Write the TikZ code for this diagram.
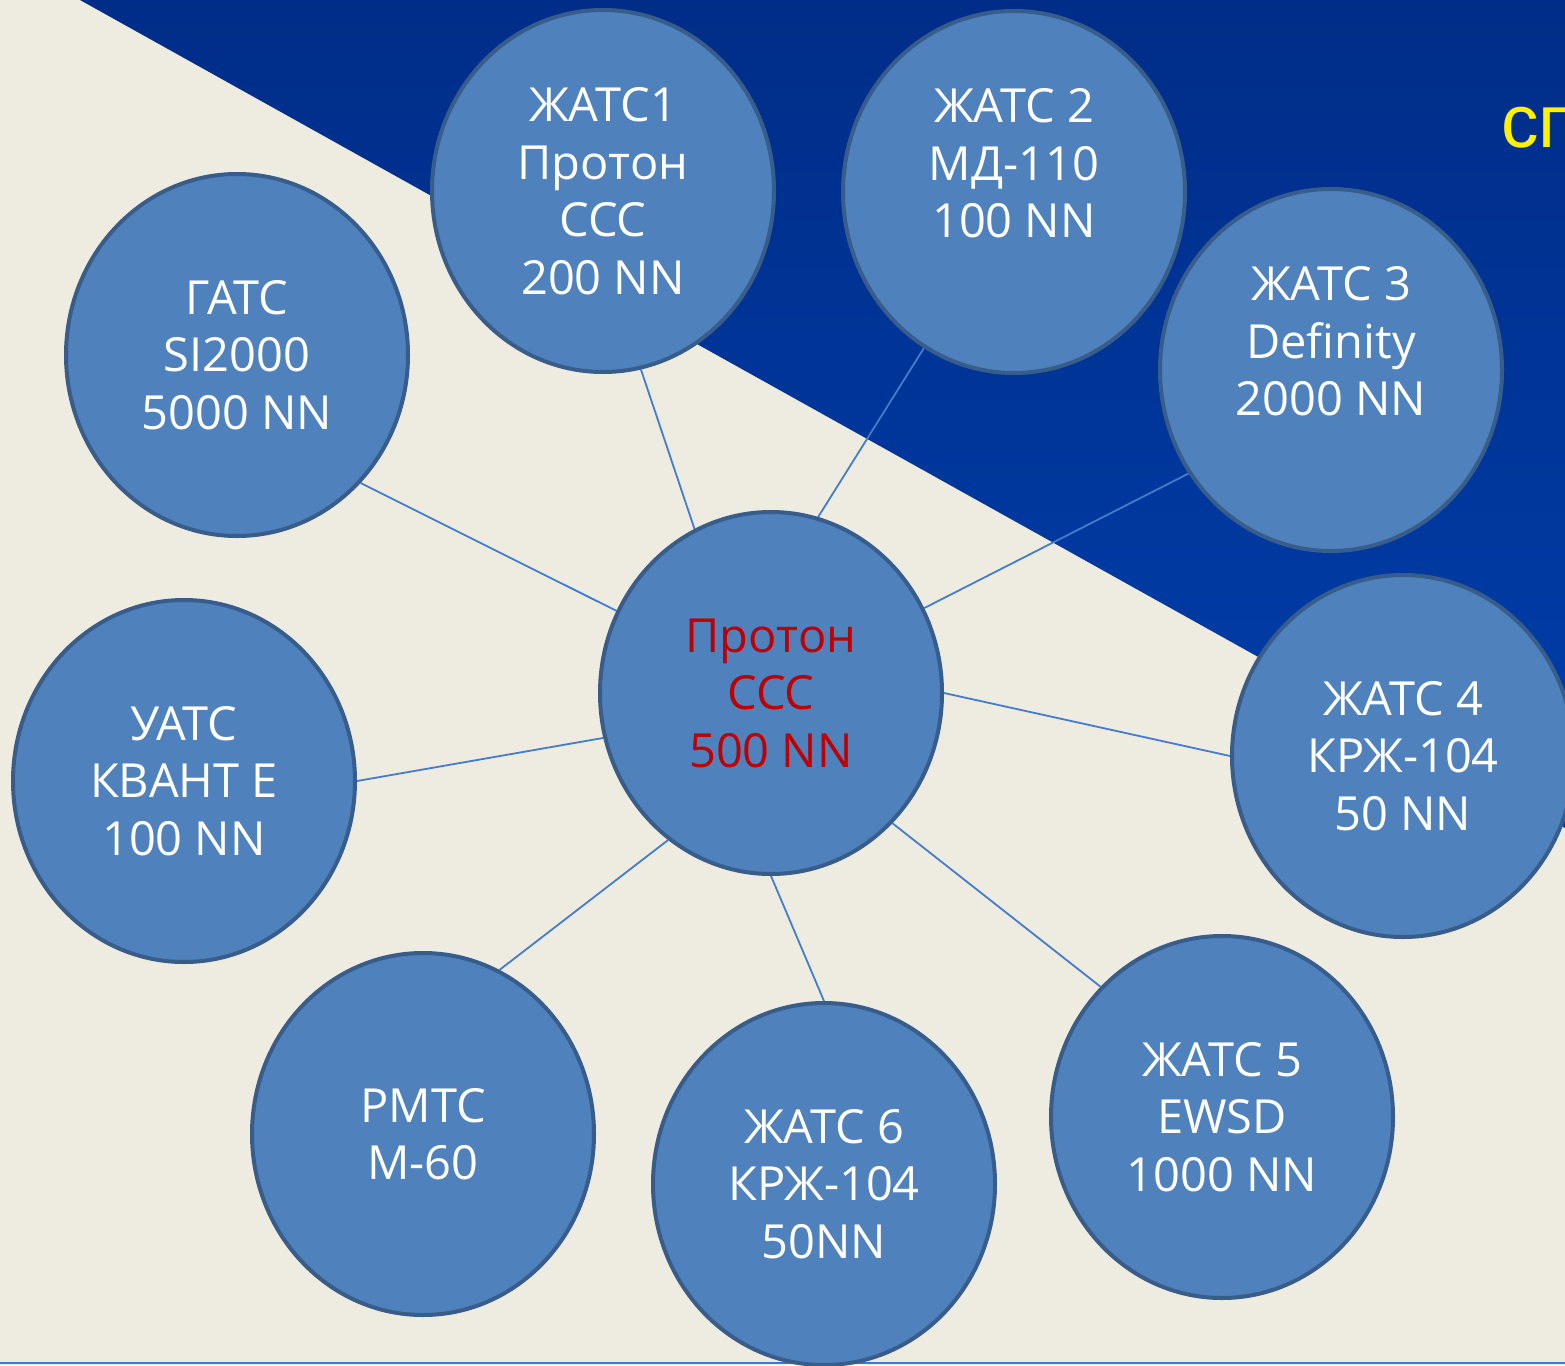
\documentclass[tikz,border=0pt]{standalone}
\usepackage{fontspec}
\setmainfont{Open Sans}
\newfontfamily\arialf{Liberation Sans}
\usetikzlibrary{shapes.geometric}
\definecolor{cream}{RGB}{238,236,225}
\definecolor{bluetop}{RGB}{0,45,136}
\definecolor{bluebot}{RGB}{0,62,170}
\definecolor{circfill}{RGB}{79,129,189}
\definecolor{circline}{RGB}{56,93,138}
\definecolor{linkc}{RGB}{68,125,205}
\definecolor{redtxt}{RGB}{192,0,0}
\definecolor{bottomline}{RGB}{60,120,216}
\pgfdeclarelayer{bg}
\pgfdeclarelayer{edges}
\pgfsetlayers{bg,edges,main}
\begin{document}
\begin{tikzpicture}[x=1pt,y=-1pt,
  station/.style={ellipse, fill=circfill, draw=circline, line width=4pt,
    minimum width=342pt, minimum height=362pt, inner sep=0pt, text=white,
    align=center, font=\fontsize{47}{57.5}\selectfont},
  link/.style={draw=linkc, line width=1.8pt}]
\useasboundingbox (0,0) rectangle (1565,1365);
\clip (0,0) rectangle (1565,1365);
\begin{pgfonlayer}{bg}
  \fill[cream] (0,0) rectangle (1565,1365);
  \shade[top color=bluetop, bottom color=bluebot] (80,0) -- (1565,0) -- (1565,828) -- cycle;
  \draw[bottomline, line width=2.5pt] (0,1363) -- (1565,1363);
\end{pgfonlayer}

\node[anchor=base west, text=yellow, inner sep=0pt, font=\arialf\fontsize{75}{75}\selectfont] (sp) at (1501,147) {сп};

\node[station] (hub)  at (771,693)  {\color{redtxt}Протон\\\color{redtxt}ССС\\\color{redtxt}500 NN};
\node[station] (z1)   at (603,191)  {ЖАТС1\\Протон\\ССС\\200 NN};
\node[station] (z2)   at (1014,192) {ЖАТС 2\\МД-110\\100 NN\\\mbox{}};
\node[station] (z3)   at (1331,370) {ЖАТС 3\\Definity\\2000 NN\\\mbox{}};
\node[station] (gats) at (237,355)  {ГАТС\\SI2000\\5000 NN};
\node[station] (uats) at (184,781)  {УАТС\\КВАНТ Е\\100 NN};
\node[station] (z4)   at (1403,756) {ЖАТС 4\\КРЖ-104\\50 NN};
\node[station] (rmts) at (423,1134) {РМТС\\М-60};
\node[station] (z6)   at (824,1184) {ЖАТС 6\\КРЖ-104\\50NN};
\node[station] (z5)   at (1222,1117) {ЖАТС 5\\EWSD\\1000 NN};

\begin{pgfonlayer}{edges}
  \draw[link] (gats.-46) -- (hub.152);
  \draw[link] (z1.-78) -- (hub.115);
  \draw[link] (z2.-120) -- (hub.75);
  \draw[link] (z3.216) -- (hub.29);
  \draw[link] (z4.180) -- (hub.0);
  \draw[link] (z5.133) -- (hub.-47);
  \draw[link] (z6.90) -- (hub.-90);
  \draw[link] (rmts.65) -- (hub.235);
  \draw[link] (uats.0) -- (hub.195);
\end{pgfonlayer}
\end{tikzpicture}
\end{document}
